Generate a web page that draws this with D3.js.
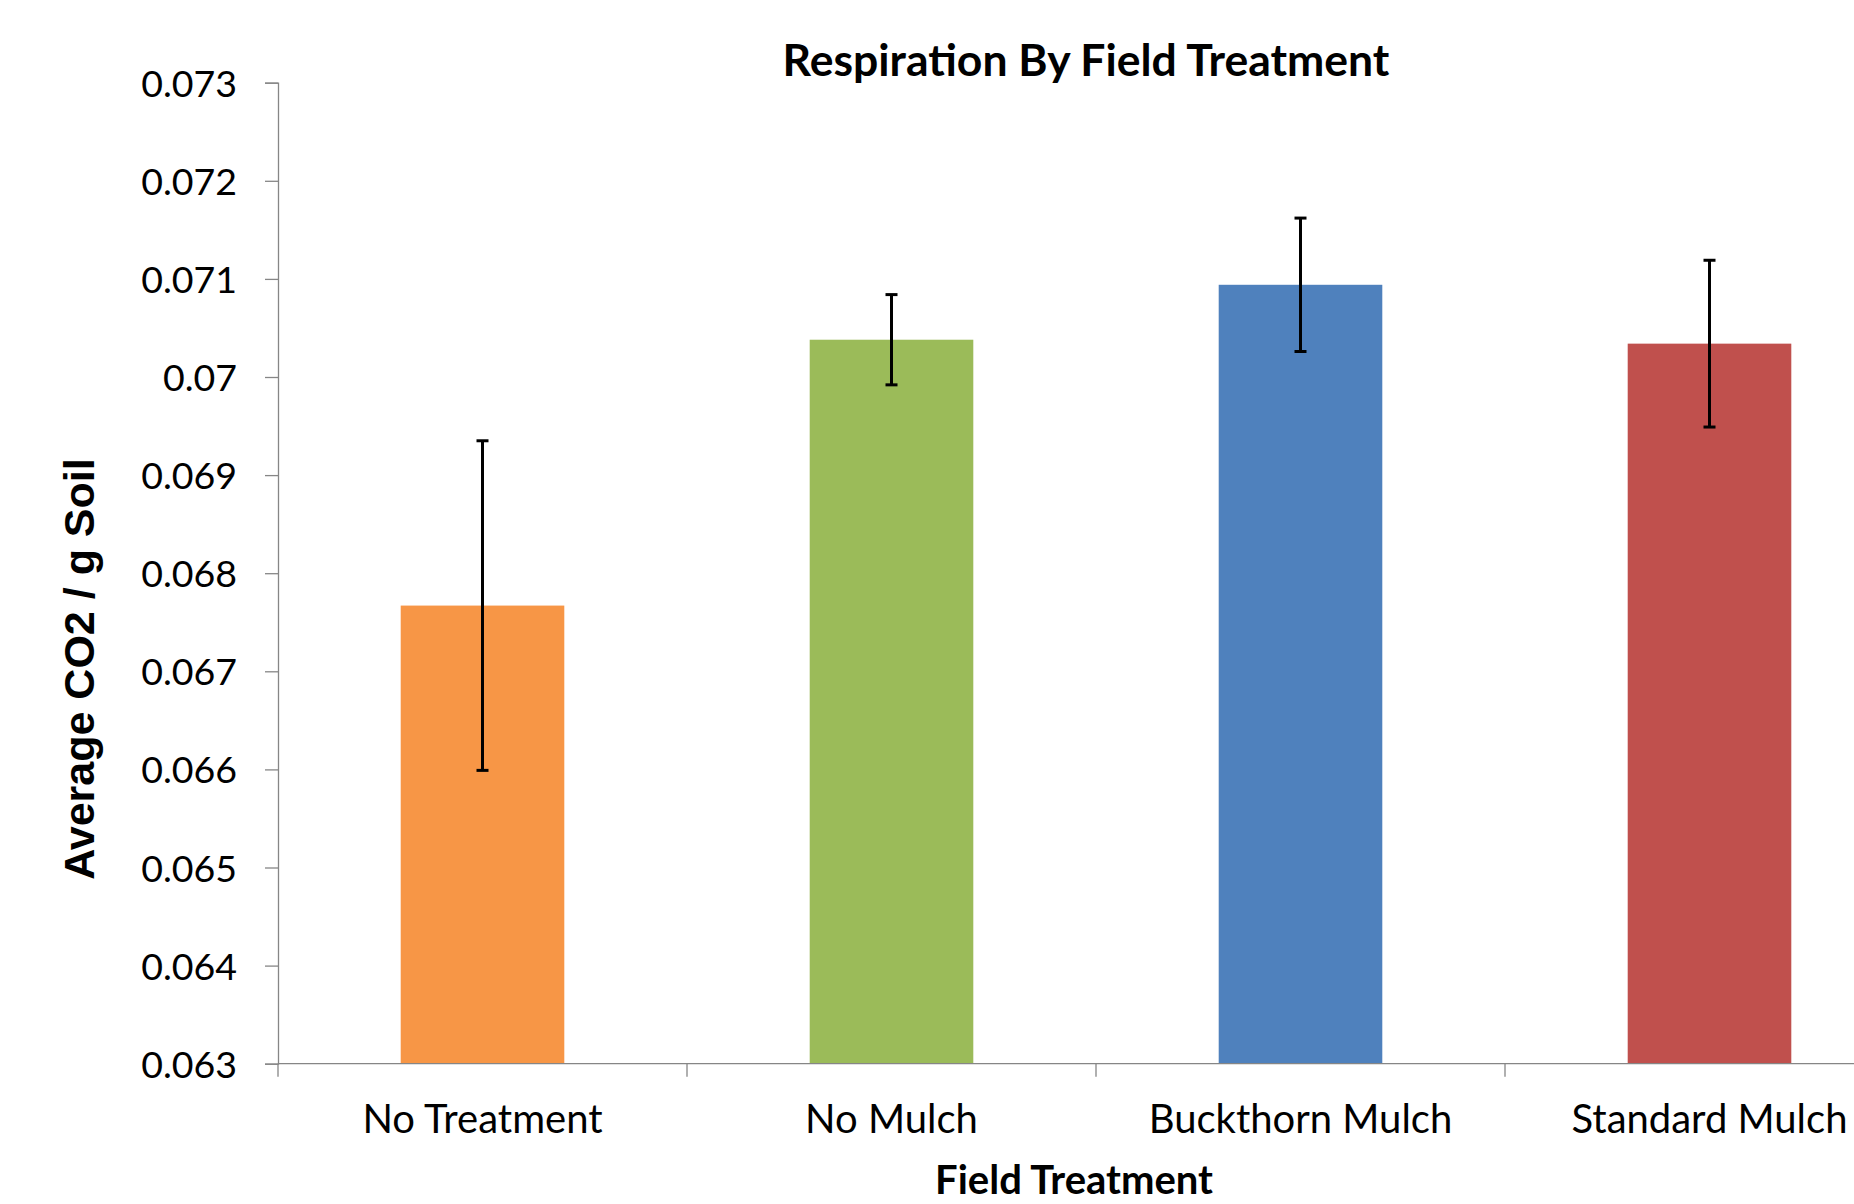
<!DOCTYPE html>
<html>
<head>
<meta charset="utf-8">
<script src="https://cdn.jsdelivr.net/npm/d3@7"></script>
<style>
  html, body { margin: 0; padding: 0; background: #ffffff; }
  svg { display: block; }
</style>
</head>
<body>
<div id="chart"></div>
<script>
// Chart data
const categories = ['No Treatment', 'No Mulch', 'Buckthorn Mulch', 'Standard Mulch'];
const meanValues = [0.06767, 0.07038, 0.07094, 0.07034];
const errorValues = [0.00168, 0.00046, 0.00068, 0.00085];
const yTickValues = [0.063, 0.064, 0.065, 0.066, 0.067, 0.068, 0.069, 0.07, 0.071, 0.072, 0.073];

const barColors = ['#F79646', '#9BBB59', '#4F81BD', '#C0504D'];
const axisColor = '#868686';

const W = 1854, H = 1204;
const plot = { left: 278, top: 82.7, bottom: 1063.7, right: 1914 };

const svg = d3.select('#chart')
  .append('svg')
  .attr('width', W)
  .attr('height', H)
  .attr('viewBox', `0 0 ${W} ${H}`);

// Scales
const x = d3.scaleBand()
  .domain(categories)
  .range([plot.left, plot.right])
  .paddingInner(0.6)
  .paddingOuter(0.3);

const y = d3.scaleLinear()
  .domain([0.063, 0.073])
  .range([plot.bottom, plot.top]);

const fmt = d3.format('.3~f');

// Bars
svg.append('g')
  .selectAll('rect')
  .data(categories)
  .join('rect')
  .attr('x', d => x(d))
  .attr('y', (d, i) => y(meanValues[i]))
  .attr('width', x.bandwidth())
  .attr('height', (d, i) => y(y.domain()[0]) - y(meanValues[i]))
  .attr('fill', (d, i) => barColors[i]);

// Y axis
const yAxis = d3.axisLeft(y)
  .tickValues(yTickValues)
  .tickFormat(fmt)
  .tickSize(13)
  .tickPadding(28);

const yAxisG = svg.append('g')
  .attr('transform', `translate(${plot.left},0)`)
  .call(yAxis);
yAxisG.select('.domain').attr('stroke', axisColor).attr('stroke-width', 1.3);
yAxisG.selectAll('.tick line').attr('stroke', axisColor).attr('stroke-width', 1.3);
yAxisG.selectAll('.tick text')
  .attr('fill', '#000')
  .attr('font-family', 'Lato, sans-serif')
  .attr('font-size', '37.5px')
  .attr('dy', '0.36em');

// X axis line and category separators
const xAxisG = svg.append('g');
xAxisG.append('line')
  .attr('x1', plot.left).attr('x2', plot.right)
  .attr('y1', plot.bottom).attr('y2', plot.bottom)
  .attr('stroke', axisColor).attr('stroke-width', 1.3);

const step = x.step();
const boundaries = categories.map(d => x(d) - x.paddingOuter() * step);
xAxisG.selectAll('line.sep')
  .data(boundaries)
  .join('line')
  .attr('class', 'sep')
  .attr('x1', d => d).attr('x2', d => d)
  .attr('y1', plot.bottom).attr('y2', plot.bottom + 13)
  .attr('stroke', axisColor).attr('stroke-width', 1.3);

xAxisG.selectAll('text')
  .data(categories)
  .join('text')
  .attr('x', d => x(d) + x.bandwidth() / 2)
  .attr('y', plot.bottom + 69)
  .attr('text-anchor', 'middle')
  .attr('font-family', 'Lato, sans-serif')
  .attr('font-size', '40px')
  .attr('fill', '#000')
  .text(d => d);

// Error bars
const errG = svg.append('g');
categories.forEach((c, i) => {
  const cx = x(c) + x.bandwidth() / 2;
  const yHi = y(meanValues[i] + errorValues[i]);
  const yLo = y(meanValues[i] - errorValues[i]);
  errG.append('line')
    .attr('x1', cx).attr('x2', cx).attr('y1', yHi).attr('y2', yLo)
    .attr('stroke', '#000').attr('stroke-width', 3);
  [yHi, yLo].forEach(v => {
    errG.append('line')
      .attr('x1', cx - 6).attr('x2', cx + 6).attr('y1', v).attr('y2', v)
      .attr('stroke', '#000').attr('stroke-width', 3);
  });
});

// Title
svg.append('text')
  .attr('x', 1086)
  .attr('y', 76)
  .attr('text-anchor', 'middle')
  .attr('font-family', 'Lato, sans-serif')
  .attr('font-weight', 'bold')
  .attr('font-size', '44.5px')
  .attr('fill', '#000')
  .text('Respiration By Field Treatment');

// X axis title
svg.append('text')
  .attr('x', 1074)
  .attr('y', 1194)
  .attr('text-anchor', 'middle')
  .attr('font-family', 'Lato, sans-serif')
  .attr('font-weight', 'bold')
  .attr('font-size', '40px')
  .attr('fill', '#000')
  .text('Field Treatment');

// Y axis title
svg.append('text')
  .attr('transform', 'translate(94,669) rotate(-90)')
  .attr('text-anchor', 'middle')
  .attr('font-family', '"Liberation Sans", Arial, sans-serif')
  .attr('font-weight', 'bold')
  .attr('font-size', '43px')
  .attr('fill', '#000')
  .text('Average CO2 / g Soil');
</script>
</body>
</html>
